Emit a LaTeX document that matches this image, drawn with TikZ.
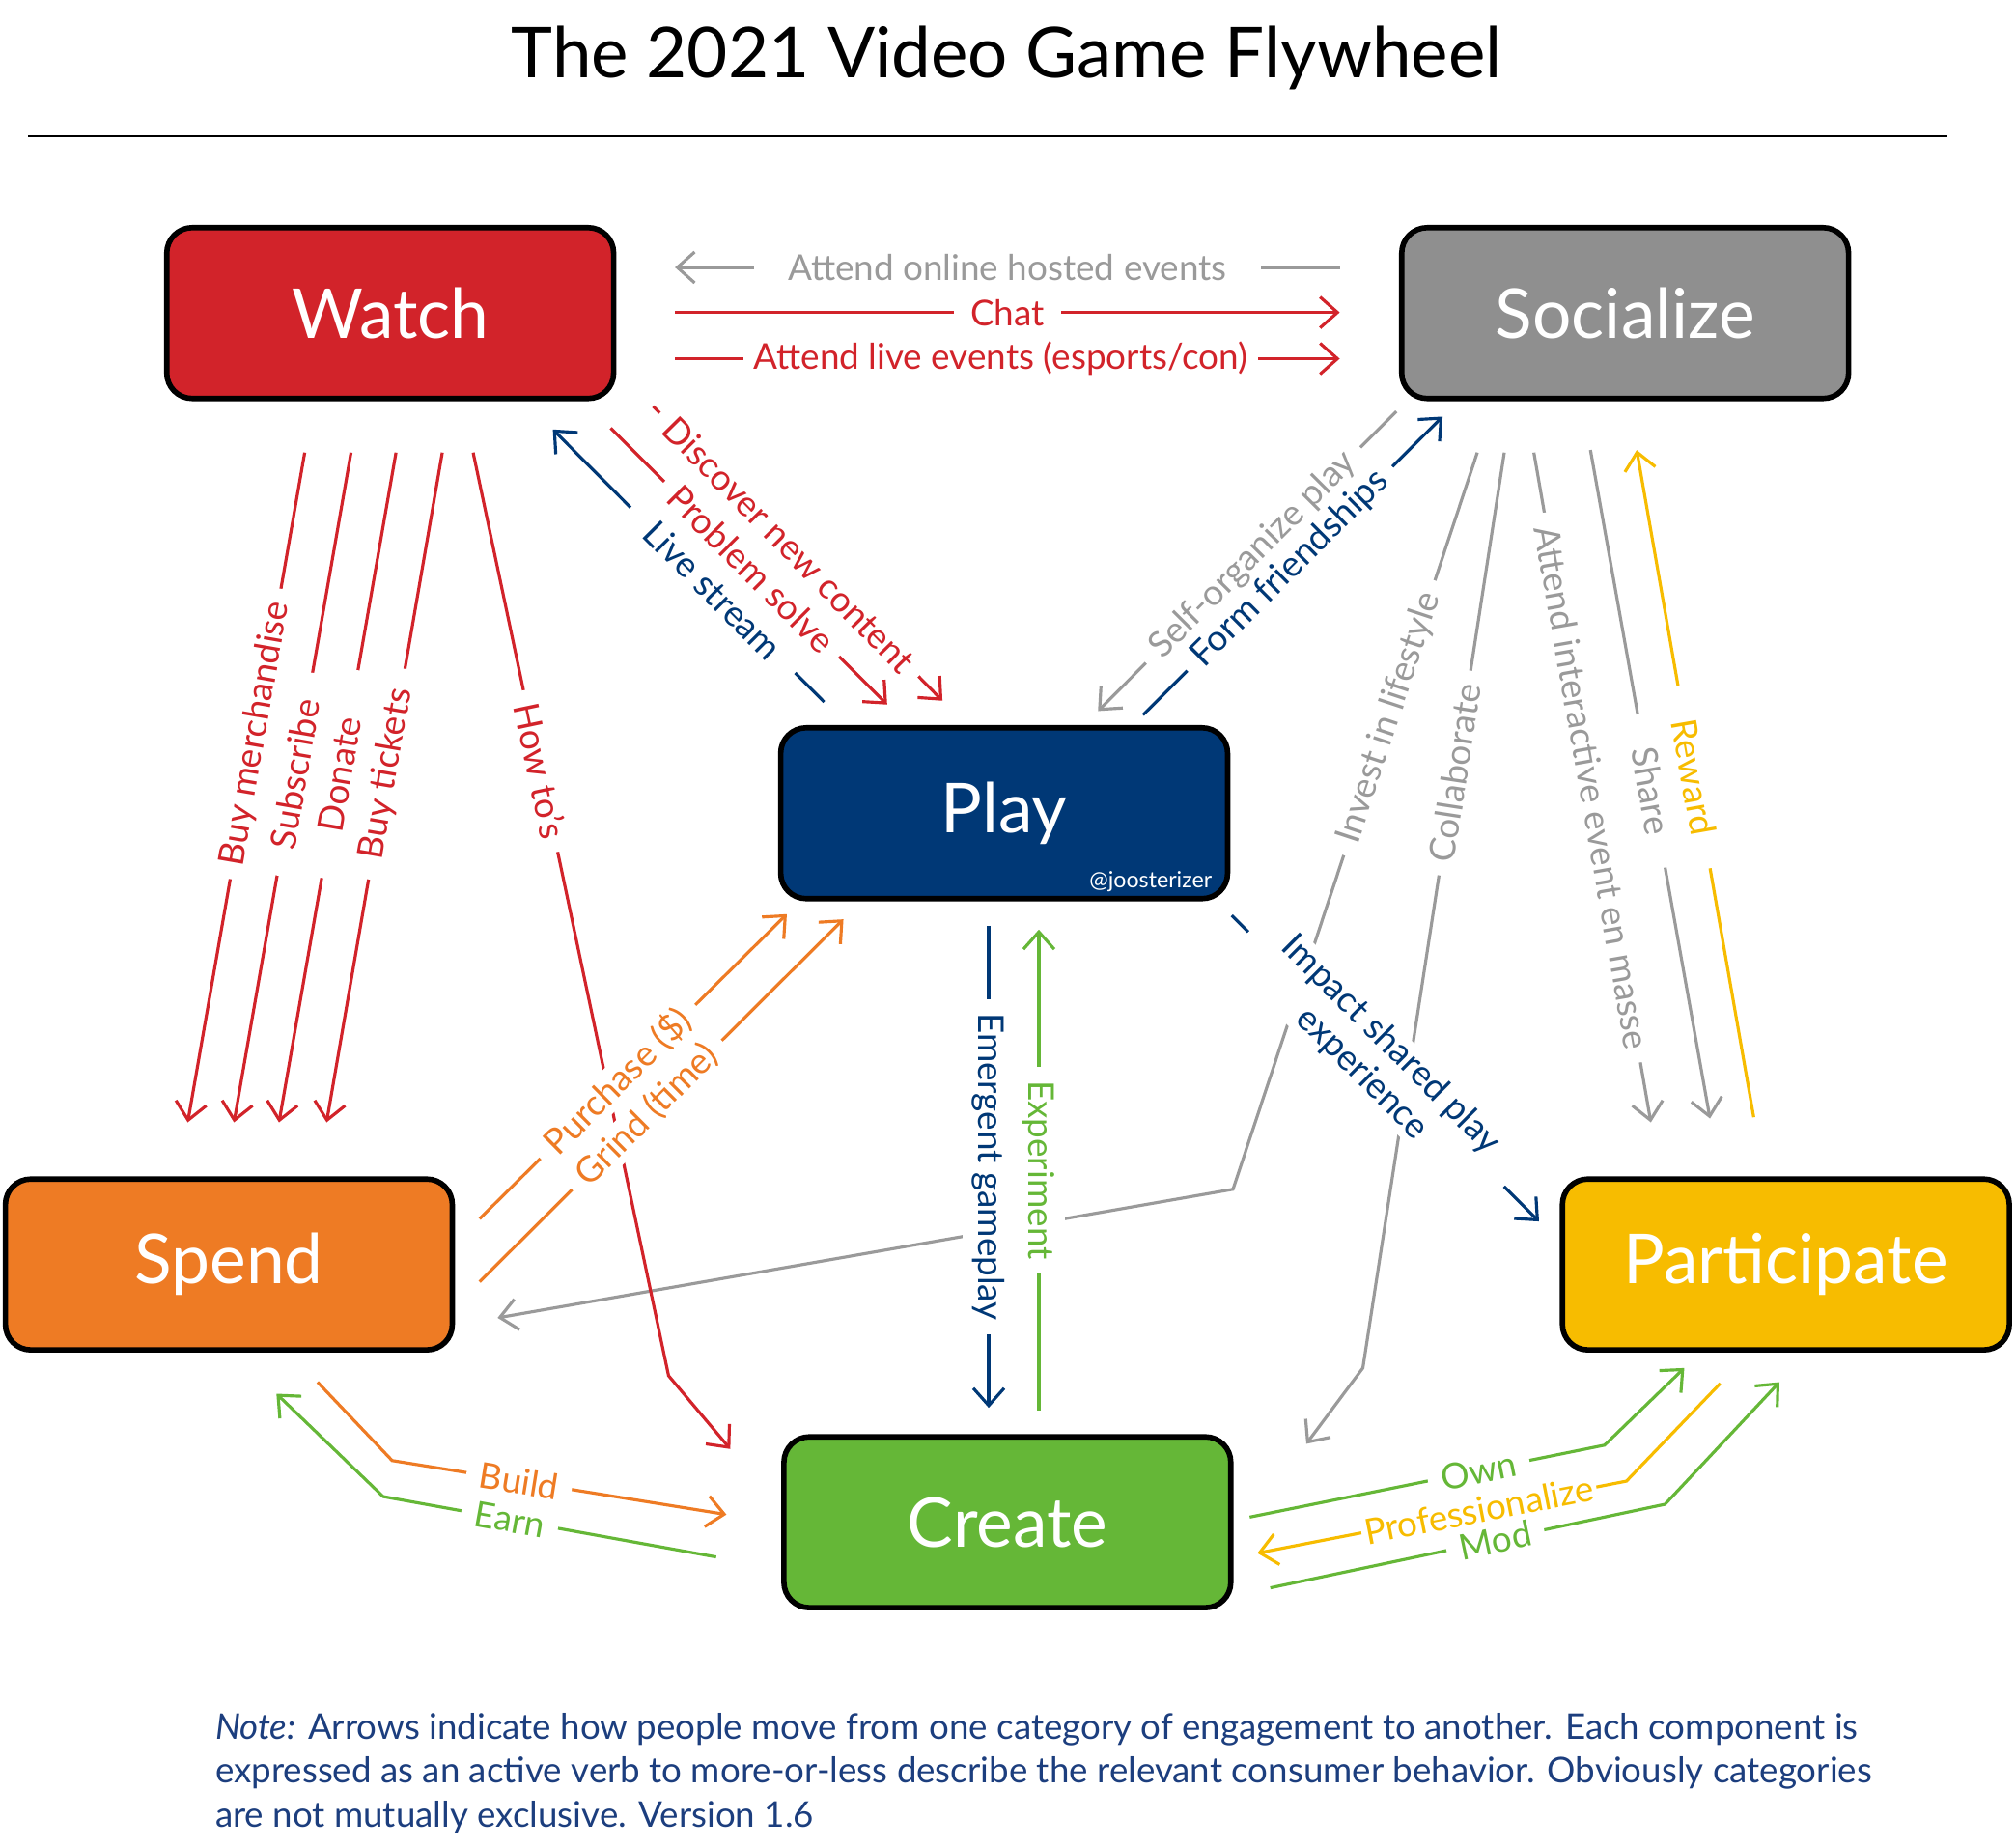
\documentclass[tikz,border=0pt]{standalone}
\usepackage{fontspec}
\setmainfont{Lato}
\usetikzlibrary{arrows.meta}
\usetikzlibrary{positioning}

\definecolor{wred}{HTML}{D2232A}
\definecolor{sgray}{HTML}{8F8F8F}
\definecolor{lgray}{HTML}{9A9A9A}
\definecolor{pblue}{HTML}{003876}
\definecolor{sorange}{HTML}{EE7B24}
\definecolor{pgold}{HTML}{F7BC00}
\definecolor{cgreen}{HTML}{65B737}
\definecolor{notenavy}{HTML}{1C3E7E}

\begin{document}
\begin{tikzpicture}[x=0.013316cm,y=-0.013316cm,
  box/.style={draw=black,line width=1.6pt,rounded corners=7.5pt,minimum width=4.63cm,minimum height=1.77cm,text=white,font=\fontsize{20.3}{24}\selectfont},
  lblbase/.style={fill=white,inner xsep=4pt,inner ysep=0.5pt,font=\fontsize{10.5}{12}\selectfont},
  lbl/.style={lblbase,sloped},
  vlbl/.style={lblbase,rotate=-90},
  flow/.style={line width=0.9pt,-{Straight Barb[length=1.8mm,width=3.2mm]}}]
\useasboundingbox (0,0) rectangle (1568,1436);

% title
\node[font=\fontsize{20.7}{25}\selectfont] (title) at (783,45) {The 2021 Video Game Flywheel};
\draw[line width=0.6pt] (22,106) -- (1515,106);

% the six boxes
\node[box,fill=wred] (watch) at (303.5,243.5) {Watch};
\node[box,fill=sgray] (social) at (1264,243.5) {Socialize};
\node[box,fill=pblue] (play) at (781,632.5) {Play};
\node[box,fill=sorange] (spend) at (178,983.5) {Spend};
\node[box,fill=pgold] (part) at (1389,983.5) {Participate};
\node[box,fill=cgreen] (create) at (783.5,1184) {Create};
\node[text=white,font=\fontsize{6.6}{8}\selectfont] (tag) at (895,686) {@joosterizer};

% end points
\coordinate (w1) at (525,208); \coordinate (s1) at (1042,208);
\coordinate (w2) at (525,243); \coordinate (s2) at (1042,243);
\coordinate (w3) at (525,279); \coordinate (s3) at (1042,279);
\coordinate (w4) at (237,352); \coordinate (sp4) at (146,873);
\coordinate (w5) at (273,352); \coordinate (sp5) at (182,873);
\coordinate (w6) at (308,352); \coordinate (sp6) at (217,873);
\coordinate (w7) at (344,352); \coordinate (sp7) at (254,873);
\coordinate (w8) at (368,352); \coordinate (k8) at (520,1070); \coordinate (c8) at (568,1127);
\coordinate (p9) at (641,546); \coordinate (w9) at (430,334);
\coordinate (w10) at (475,333); \coordinate (p10) at (690,548);
\coordinate (w11) at (508,316); \coordinate (p11) at (733,545);
\coordinate (s12) at (1086,320); \coordinate (p12) at (854,553);
\coordinate (p13) at (889,556); \coordinate (s13) at (1122,324);
\coordinate (s14) at (1149,352); \coordinate (k14) at (959,925); \coordinate (sp14) at (387,1025);
\coordinate (s15) at (1170,352); \coordinate (k15) at (1060,1064); \coordinate (c15) at (1016,1123);
\coordinate (s16) at (1193,352); \coordinate (pa16) at (1284,873);
\coordinate (s17) at (1237,350); \coordinate (pa17) at (1330,870);
\coordinate (pa18) at (1364,869); \coordinate (s18) at (1273,350);
\coordinate (p19) at (769,720); \coordinate (c19) at (769,1095);
\coordinate (c20) at (808,1097); \coordinate (p20) at (808,723);
\coordinate (p21) at (958,712); \coordinate (pa21) at (1197,950);
\coordinate (sp22) at (373,948); \coordinate (p22) at (612,711);
\coordinate (sp23) at (373,997); \coordinate (p23) at (656,715);
\coordinate (sp24) at (247,1075); \coordinate (k24) at (305,1136); \coordinate (c24) at (565,1178);
\coordinate (c25) at (557,1211); \coordinate (k25) at (298,1164); \coordinate (sp25) at (215,1084);
\coordinate (c26) at (972,1180); \coordinate (k26) at (1248,1124); \coordinate (pa26) at (1310,1064);
\coordinate (pa27) at (1338,1076); \coordinate (k27) at (1265,1152); \coordinate (c27) at (978,1208);
\coordinate (c28) at (988,1235); \coordinate (k28) at (1295,1170); \coordinate (pa28) at (1384,1075);

% long gray ones first, the labels cut them
\draw[flow,lgray] (s14) -- node[lbl,pos=.36] {Invest in lifestyle} (k14) -- (sp14);
\draw[flow,lgray] (s15) -- node[lbl,pos=.35] {Collaborate} (k15) -- (c15);
\draw[flow,wred] (w8) -- node[lbl,pos=.345] {How to's} (k8) -- (c8);

% watch - socialize
\draw[flow,lgray] (s1) -- node[lbl,inner xsep=10pt] {Attend online hosted events} (w1);
\draw[flow,wred] (w2) -- node[lbl,inner xsep=5pt] {Chat} (s2);
\draw[flow,wred] (w3) -- node[lbl,pos=.49,inner xsep=3pt] {Attend live events (esports/con)} (s3);

% watch - spend
\draw[flow,wred] (w4) -- node[lbl,pos=.42] {Buy merchandise} (sp4);
\draw[flow,wred] (w5) -- node[lbl,pos=.48,inner xsep=8pt] {Subscribe} (sp5);
\draw[flow,wred] (w6) -- node[lbl,pos=.48,inner xsep=14pt] {Donate} (sp6);
\draw[flow,wred] (w7) -- node[lbl,pos=.48,inner xsep=6pt] {Buy tickets} (sp7);

% watch - play
\draw[flow,pblue] (p9) -- node[lbl,pos=.41,inner xsep=8pt] {Live stream} (w9);
\draw[flow,wred] (w10) -- node[lbl,pos=.51] {Problem solve} (p10);
\draw[flow,wred] (w11) -- node[lbl,pos=.47] {Discover new content} (p11);

% socialize - play
\draw[flow,lgray] (s12) -- node[lbl,pos=.48] {Self-organize play} (p12);
\draw[flow,pblue] (p13) -- node[lbl,pos=.49] {Form friendships} (s13);

% socialize - participate
\draw[flow,lgray] (s16) -- node[lbl,pos=.5] {Attend interactive event en masse} (pa16);
\draw[flow,lgray] (s17) -- node[lbl,pos=.51,inner xsep=10pt] {Share} (pa17);
\draw[flow,pgold] (pa18) -- node[lbl,pos=.51,inner xsep=10pt] {Reward} (s18);

% play - create
\draw[flow,pblue] (p19) -- node[vlbl,inner ysep=3pt] {Emergent gameplay} (c19);
\draw[flow,cgreen] (c20) -- node[vlbl,inner ysep=3pt] {Experiment} (p20);

% play - participate
\draw[flow,pblue] (p21) -- node[lbl,pos=.47,align=center,inner xsep=10pt] {Impact shared play\\experience} (pa21);

% spend - play
\draw[flow,sorange] (sp22) -- node[lbl,pos=.45] {Purchase (\$)} (p22);
\draw[flow,sorange] (sp23) -- node[lbl,pos=.46] {Grind (time)} (p23);

% spend - create
\draw[flow,sorange] (sp24) -- (k24) -- node[lbl,pos=.38] {Build} (c24);
\draw[flow,cgreen] (c25) -- node[lbl,pos=.62] {Earn} (k25) -- (sp25);

% create - participate
\draw[flow,cgreen] (c26) -- node[lbl,pos=.645] {Own} (k26) -- (pa26);
\draw[flow,pgold] (pa27) -- (k27) -- node[lbl,pos=.40,inner xsep=1pt] {Professionalize} (c27);
\draw[flow,cgreen] (c28) -- node[lbl,pos=.57] {Mod} (k28) -- (pa28);

% note
\node[anchor=north west,align=left,inner sep=0pt,text=notenavy,font=\fontsize{10.45}{12.9}\selectfont] (note) at (167,1332)
  {\textit{Note:} Arrows indicate how people move from one category of engagement to another. Each component is\\
   expressed as an active verb to more-or-less describe the relevant consumer behavior. Obviously categories\\
   are not mutually exclusive. Version 1.6};
\end{tikzpicture}
\end{document}
